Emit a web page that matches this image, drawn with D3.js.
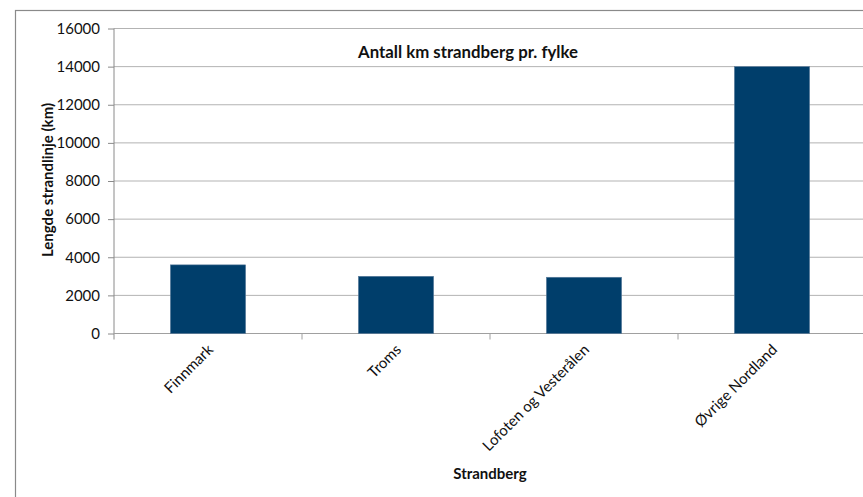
<!DOCTYPE html>
<html><head><meta charset="utf-8">
<script src="https://cdn.jsdelivr.net/npm/d3@7/dist/d3.min.js"></script>
<style>
html,body{margin:0;padding:0;background:#fff;overflow:hidden}
svg{display:block}
text{font-family:Lato,"Open Sans",sans-serif;fill:#111}
</style></head>
<body>
<svg id="c" width="863" height="497"></svg>
<script>
const categories = ["Finnmark","Troms","Lofoten og Vesterålen","Øvrige Nordland"];
const values = [3600, 3000, 2950, 14000];
const yTicks = [0,2000,4000,6000,8000,10000,12000,14000,16000];
const title = "Antall km strandberg pr. fylke";
const xTitle = "Strandberg";
const yTitle = "Lengde strandlinje (km)";

(function(){
const svg = d3.select("#c");
svg.append("rect").attr("x",15.5).attr("y",10.5).attr("width",900).attr("height",600)
  .attr("fill","#fff").attr("stroke","#8a8a8a").attr("stroke-width",1.2);

const pL=114, pR=866, pT=28.5, pB=333.5;
const x = d3.scaleBand().domain(categories).range([pL,pR]).paddingInner(0.6).paddingOuter(0.3);
const xb = d3.scaleBand().domain(categories).range([pL,pR]);
const y = d3.scaleLinear().domain([0,16000]).range([pB,pT]);

svg.append("g").selectAll("line").data(yTicks.filter(d=>d>0)).join("line")
  .attr("x1",pL).attr("x2",pR).attr("y1",d=>y(d)).attr("y2",d=>y(d))
  .attr("stroke","#b3b3b3").attr("stroke-width",1);

const ya = svg.append("g").attr("transform",`translate(${pL},0)`)
  .call(d3.axisLeft(y).tickValues(yTicks).tickSize(6).tickPadding(8).tickFormat(d3.format("d")));
ya.select(".domain").attr("stroke","#8a8a8a").attr("d",`M0,${pT}V${pB+6}`);
ya.selectAll(".tick line").attr("stroke","#8a8a8a");
ya.selectAll(".tick text").attr("font-size","15px").attr("fill","#222").style("font-family","Lato");

const xa = svg.append("g").attr("transform",`translate(0,${pB})`)
  .call(d3.axisBottom(x).tickSize(0).tickFormat(d=>d));
xa.select(".domain").attr("stroke","#a0a0a0").attr("d",`M${pL},0H${pR}`);
xa.selectAll(".tick text")
  .attr("font-size","15px").attr("fill","#222").style("font-family","Lato")
  .attr("text-anchor","end").attr("dy",0)
  .attr("transform","translate(4,15) rotate(-45)");
svg.append("g").selectAll("line").data(categories.slice(1)).join("line")
  .attr("x1",d=>xb(d)).attr("x2",d=>xb(d)).attr("y1",pB).attr("y2",pB+6)
  .attr("stroke","#a0a0a0");

svg.append("g").selectAll("rect").data(values).join("rect")
  .attr("x",(d,i)=>x(categories[i])).attr("width",x.bandwidth())
  .attr("y",d=>y(d)).attr("height",d=>pB-y(d))
  .attr("fill","#003e6b").attr("stroke","#5a7c9c").attr("stroke-width",0.6);

svg.append("text").attr("x",468).attr("y",58).attr("text-anchor","middle")
  .attr("font-size","16.8px").attr("font-weight","bold").text(title);
svg.append("text").attr("x",490).attr("y",479).attr("text-anchor","middle")
  .attr("font-size","15px").attr("font-weight","bold").text(xTitle);
svg.append("text").attr("transform","translate(53,180) rotate(-90)").attr("text-anchor","middle")
  .attr("font-size","15px").attr("font-weight","bold").text(yTitle);
})();
</script>
</body></html>
